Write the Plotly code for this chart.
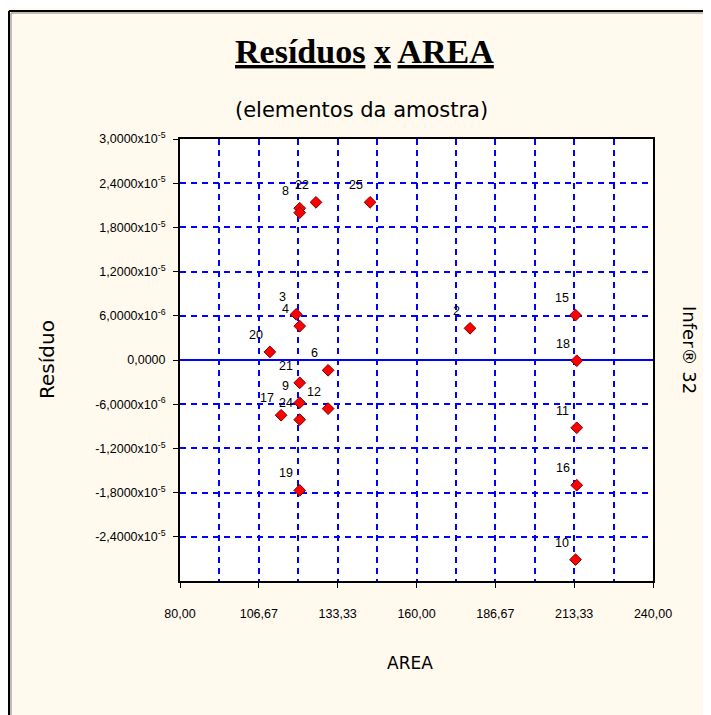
import plotly.graph_objects as go

# ---- data ----
point_labels = ["8", "", "22", "25", "3", "4", "20", "6", "21", "9", "24", "17", "12", "19",
                "2", "15", "18", "11", "16", "10"]
area = [120.5, 120.5, 126.0, 144.3, 119.3, 120.5, 110.4, 130.1, 120.5, 120.5, 120.5, 114.2, 130.1,
        120.5, 178.1, 213.8, 214.2, 214.2, 214.2, 213.8]
residuo = [2.06e-5, 2.00e-5, 2.14e-5, 2.14e-5, 6.2e-6, 4.6e-6, 1.1e-6, -1.4e-6, -3.1e-6, -5.8e-6,
           -8.1e-6, -7.5e-6, -6.6e-6, -1.77e-5, 4.3e-6, 6.1e-6, -0.1e-6, -9.2e-6, -1.70e-5, -2.71e-5]

x_tickvals = [80, 106.667, 133.333, 160, 186.667, 213.333, 240]
x_ticktext = ["80,00", "106,67", "133,33", "160,00", "186,67", "213,33", "240,00"]
x_minorvals = [93.333, 120, 146.667, 173.333, 200, 226.667]

y_tickvals = [3.0e-5, 2.4e-5, 1.8e-5, 1.2e-5, 6.0e-6, 0.0, -6.0e-6, -1.2e-5, -1.8e-5, -2.4e-5]
y_ticktext = ["3,0000x10<sup>-5</sup>", "2,4000x10<sup>-5</sup>", "1,8000x10<sup>-5</sup>",
              "1,2000x10<sup>-5</sup>", "6,0000x10<sup>-6</sup>", "0,0000",
              "-6,0000x10<sup>-6</sup>", "-1,2000x10<sup>-5</sup>", "-1,8000x10<sup>-5</sup>",
              "-2,4000x10<sup>-5</sup>"]

BG = "#FFF9EE"
GRID = "#0000FF"

fig = go.Figure()
fig.add_trace(go.Scatter(
    x=area, y=residuo, mode="markers",
    marker=dict(symbol="diamond", size=9, color="#FF0000",
                line=dict(color="#7A0000", width=1)),
    hoverinfo="x+y", showlegend=False,
))

annotations = []
for lab, xv, yv in zip(point_labels, area, residuo):
    if lab:
        annotations.append(dict(x=xv, y=yv, xref="x", yref="y", text=lab, showarrow=False,
                                xshift=-14, yshift=17,
                                font=dict(family="Liberation Sans, Arial", size=12.5, color="#000000")))

# titles / side texts (paper coords derived from page pixel positions)
annotations += [
    dict(xref="paper", yref="paper", x=(364 - 180) / 473, y=(581 - 51) / 442, xanchor="center", yanchor="middle",
         text="<u>Resíduos</u> <u>x</u> <u>AREA</u>", showarrow=False,
         font=dict(family="Liberation Serif, Times New Roman", size=34, color="#000000", weight="bold")),
    dict(xref="paper", yref="paper", x=(361 - 180) / 473, y=(581 - 110) / 442, xanchor="center", yanchor="middle",
         text="(elementos da amostra)", showarrow=False,
         font=dict(family="DejaVu Sans", size=21, color="#000000")),
    dict(xref="paper", yref="paper", x=(410 - 180) / 473, y=(581 - 663) / 442, xanchor="center", yanchor="middle",
         text="AREA", showarrow=False,
         font=dict(family="DejaVu Sans", size=17, color="#000000")),
    dict(xref="paper", yref="paper", x=(47 - 180) / 473, y=(581 - 360) / 442, xanchor="center", yanchor="middle",
         text="Resíduo", textangle=-90, showarrow=False,
         font=dict(family="DejaVu Sans", size=20, color="#000000")),
    dict(xref="paper", yref="paper", x=(690 - 180) / 473, y=(581 - 350) / 442, xanchor="center", yanchor="middle",
         text="Infer® 32", textangle=90, showarrow=False,
         font=dict(family="DejaVu Sans", size=18, color="#000000")),
]

# outer window frame (top and left edges)
fx = (9 - 180) / 473
fy = (581 - 11) / 442
shapes = [
    dict(type="line", xref="paper", yref="paper", x0=fx, x1=fx, y0=(581 - 720) / 442, y1=fy,
         line=dict(color="#000000", width=2)),
    dict(type="line", xref="paper", yref="paper", x0=fx, x1=(720 - 180) / 473, y0=fy, y1=fy,
         line=dict(color="#000000", width=2)),
    dict(type="line", xref="paper", yref="paper", x0=fx + 2 / 473, x1=fx + 2 / 473, y0=(581 - 720) / 442, y1=fy - 2 / 442,
         line=dict(color="#808080", width=1)),
    dict(type="line", xref="paper", yref="paper", x0=fx + 2 / 473, x1=(720 - 180) / 473, y0=fy - 2 / 442, y1=fy - 2 / 442,
         line=dict(color="#808080", width=1)),
]

fig.update_layout(
    width=703, height=707, autosize=False,
    margin=dict(l=172, r=58, t=131, b=134, pad=0),
    paper_bgcolor=BG, plot_bgcolor="#FFFFFF",
    annotations=annotations, shapes=shapes,
    showlegend=False,
)

fig.update_xaxes(
    range=[80, 240], tickmode="array", tickvals=x_tickvals, ticktext=x_ticktext,
    ticks="outside", ticklen=5, tickwidth=1, tickcolor="#000000",
    ticklabelstandoff=15,
    tickfont=dict(family="Liberation Sans, Arial", size=12.5, color="#000000"),
    showline=True, mirror=True, linecolor="#000000", linewidth=2,
    showgrid=True, gridcolor=GRID, gridwidth=2, griddash="6px,5px",
    minor=dict(tickmode="array", tickvals=x_minorvals, showgrid=True, gridcolor=GRID,
               gridwidth=2, griddash="6px,5px", ticks=""),
    zeroline=False,
)
fig.update_yaxes(
    range=[-3.0e-5, 3.0e-5], tickmode="array", tickvals=y_tickvals, ticktext=y_ticktext,
    ticks="outside", ticklen=5, tickwidth=1, tickcolor="#000000",
    ticklabelstandoff=5,
    tickfont=dict(family="Liberation Sans, Arial", size=12.5, color="#000000"),
    showline=True, mirror=True, linecolor="#000000", linewidth=2,
    showgrid=True, gridcolor=GRID, gridwidth=2, griddash="6px,5px",
    zeroline=True, zerolinecolor=GRID, zerolinewidth=1.5,
)

fig.write_html("out.html")
